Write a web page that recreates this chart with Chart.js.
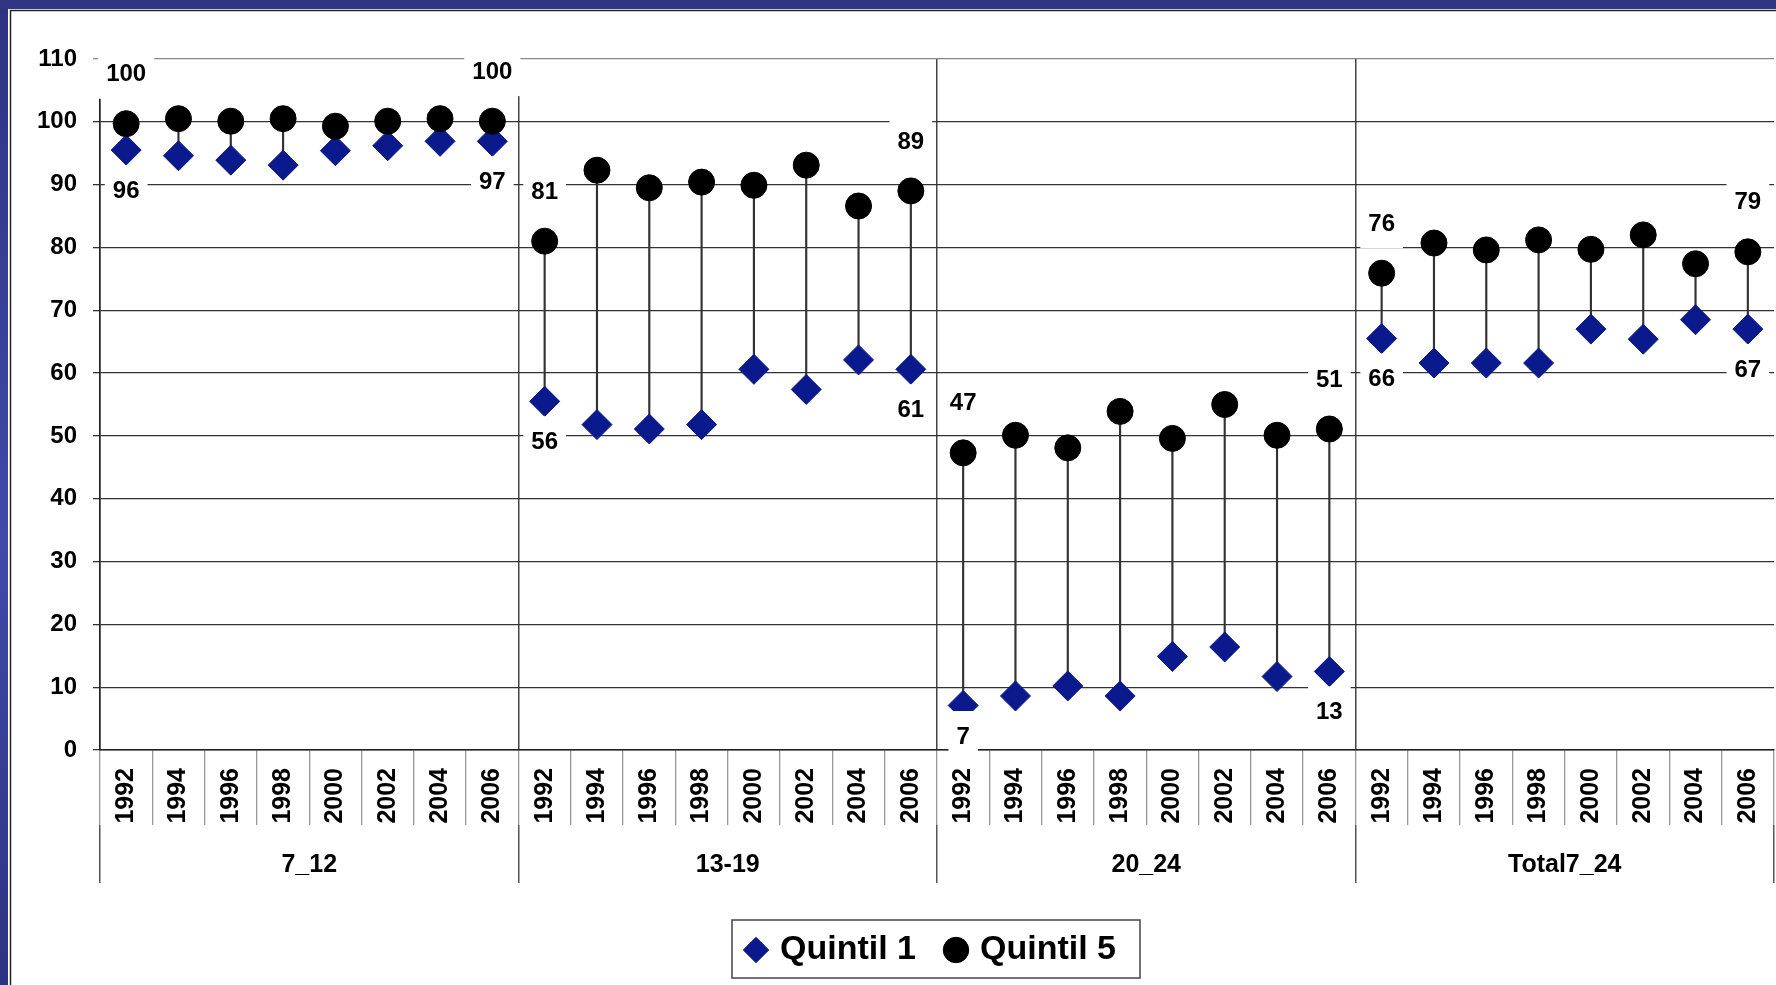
<!DOCTYPE html>
<html>
<head>
<meta charset="utf-8">
<script src="https://cdn.jsdelivr.net/npm/chart.js@4.4.1/dist/chart.umd.min.js"></script>
<style>
    html, body { margin: 0; padding: 0; background: #fff; overflow: hidden; }
    #quintil-chart { display: block; }
</style>
</head>
<body>
<canvas id="quintil-chart" width="1776" height="985"></canvas>
<script>
const groups = ['7_12', '13-19', '20_24', 'Total7_24'];
const years = ['1992', '1994', '1996', '1998', '2000', '2002', '2004', '2006'];

// one row per age group, one value per year
const quintil1 = [
    95.5, 94.6, 93.9, 93.1, 95.4, 96.2, 96.9, 96.9,
    55.5, 51.8, 51.1, 51.8, 60.6, 57.4, 62.1, 60.6,
    7.1, 8.6, 10.2, 8.6, 14.9, 16.4, 11.7, 12.5,
    65.5, 61.6, 61.6, 61.6, 67.0, 65.4, 68.5, 67.0
];
const quintil5 = [
    99.7, 100.5, 100.1, 100.5, 99.3, 100.1, 100.5, 100.1,
    81.0, 92.3, 89.5, 90.4, 89.9, 93.1, 86.6, 89.0,
    47.3, 50.1, 48.1, 53.9, 49.6, 55.0, 50.1, 51.1,
    75.9, 80.7, 79.6, 81.2, 79.7, 82.0, 77.4, 79.3
];
const yMin = 0;
const yMax = 110;
const yStep = 10;

const FONT = '"Liberation Sans", Arial, sans-serif';
Chart.defaults.font.family = FONT;

const xLabels = groups.flatMap(() => years);
const ranges = quintil1.map((v, i) => [v, quintil5[i]]);

const framePlugin = {
    id: 'frame',
    beforeDraw(chart) {
        const { ctx, width, height } = chart;
        ctx.save();
        ctx.fillStyle = '#fff';
        ctx.fillRect(0, 0, width, height);
        const grad = ctx.createLinearGradient(0, 0, 0, height);
        grad.addColorStop(0, '#2d3380');
        grad.addColorStop(0.55, '#4249a8');
        grad.addColorStop(1, '#2d3380');
        ctx.fillStyle = grad;
        ctx.fillRect(0, 0, 8, height);
        ctx.fillStyle = '#2f3580';
        ctx.fillRect(0, 0, width, 9);
        ctx.strokeStyle = '#222';
        ctx.lineWidth = 1.5;
        ctx.beginPath();
        ctx.moveTo(10.5, height);
        ctx.lineTo(10.5, 10.5);
        ctx.lineTo(width, 10.5);
        ctx.stroke();
        ctx.restore();
    }
};

// move the legend row to where it sits in the original
const legendShift = {
    id: 'legendShift',
    afterLayout(chart) {
        const lg = chart.legend;
        const pad = lg.options.labels.padding;
        const start = (lg.left + pad + lg.right - lg.lineWidths[0]) / 2;
        const dx = 749 - start;
        lg.left += dx;
        lg.right += dx;
    }
};

const legendFrame = {
    id: 'legendFrame',
    afterDraw(chart) {
        const boxes = chart.legend.legendHitBoxes;
        if (!boxes || !boxes.length) return;
        const { ctx } = chart;
        const first = boxes[0];
        const last = boxes[boxes.length - 1];
        const cy = first.top + first.height / 2;
        const left = first.left - 17;
        const right = last.left + last.width + 24;
        ctx.save();
        ctx.strokeStyle = '#444';
        ctx.lineWidth = 1.5;
        ctx.strokeRect(left, cy - 30, right - left, 58);
        ctx.restore();
    }
};

// first and last value of every group, with a white box behind
const valueLabels = {
    id: 'valueLabels',
    afterDatasetsDraw(chart) {
        const { ctx, chartArea } = chart;
        ctx.save();
        ctx.font = `bold 24px ${FONT}`;
        ctx.textAlign = 'center';
        ctx.textBaseline = 'middle';
        [1, 2].forEach(di => {
            const meta = chart.getDatasetMeta(di);
            const data = chart.data.datasets[di].data;
            meta.data.forEach((pt, i) => {
                const pos = i % years.length;
                if (pos !== 0 && pos !== years.length - 1) return;
                const text = String(Math.round(data[i]));
                const y = di === 2 ? pt.y - 50 : Math.min(pt.y + 40, chartArea.bottom - 14);
                const w = ctx.measureText(text).width + 16;
                ctx.fillStyle = '#fff';
                ctx.fillRect(pt.x - w / 2, y - 25, w, 50);
                ctx.fillStyle = '#000';
                ctx.fillText(text, pt.x, y + 1);
            });
        });
        ctx.restore();
    }
};

// fixed axis sizes, and no extra side padding for the rotated labels
const fixHeight = h => s => {
    s.height = h;
    s.paddingLeft = 0;
    s.paddingRight = 0;
};

const quintilChart = new Chart(document.getElementById('quintil-chart'), {
    type: 'bar',
    data: {
        labels: xLabels,
        datasets: [
            {
                label: 'range',
                data: ranges,
                backgroundColor: '#333',
                barThickness: 1.5,
                order: 3
            },
            {
                type: 'line',
                label: 'Quintil 1',
                data: quintil1,
                showLine: false,
                pointStyle: 'rectRot',
                pointRadius: 15,
                backgroundColor: '#0a1a8c',
                borderColor: '#0a1a8c',
                borderWidth: 1,
                order: 2
            },
            {
                type: 'line',
                label: 'Quintil 5',
                data: quintil5,
                showLine: false,
                pointStyle: 'circle',
                pointRadius: 13,
                backgroundColor: '#000',
                borderColor: '#000',
                borderWidth: 1,
                order: 1
            }
        ]
    },
    options: {
        responsive: false,
        animation: false,
        events: [],
        layout: {
            autoPadding: false,
            padding: { left: 10, right: 2, top: 59, bottom: 8 }
        },
        scales: {
            x: {
                type: 'category',
                offset: true,
                grid: {
                    offset: true,
                    color: ctx => ctx.index % years.length === 0 ? '#444' : 'rgba(0,0,0,0)',
                    lineWidth: 1.5,
                    tickColor: '#777',
                    tickWidth: 1,
                    tickLength: 75
                },
                border: { color: '#222', width: 1.5 },
                ticks: {
                    autoSkip: false,
                    maxRotation: 90,
                    minRotation: 90,
                    padding: -57,
                    color: '#000',
                    font: { size: 25, weight: 'bold' }
                },
                afterFit: fixHeight(75)
            },
            x2: {
                type: 'category',
                axis: 'x',
                labels: groups,
                position: 'bottom',
                offset: true,
                grid: {
                    offset: true,
                    drawOnChartArea: false,
                    tickLength: 58,
                    color: '#555',
                    lineWidth: 1.5
                },
                border: { display: false },
                ticks: {
                    padding: -33,
                    color: '#000',
                    font: { size: 25, weight: 'bold' }
                },
                afterFit: fixHeight(75)
            },
            y: {
                min: yMin,
                max: yMax,
                ticks: {
                    stepSize: yStep,
                    padding: 16,
                    color: '#000',
                    font: { size: 24, weight: 'bold' }
                },
                grid: {
                    color: ctx => ctx.tick && ctx.tick.value === yMax ? '#888' : '#333',
                    lineWidth: 1.3,
                    tickLength: 7
                },
                border: { color: '#222', width: 1.5 },
                afterFit: s => { s.width = 90; }
            }
        },
        plugins: {
            tooltip: { enabled: false },
            legend: {
                position: 'bottom',
                labels: {
                    usePointStyle: true,
                    boxWidth: 14,
                    boxHeight: 18,
                    padding: 33,
                    color: '#000',
                    font: { size: 34, weight: 'bold' },
                    filter: item => item.datasetIndex !== 0,
                    sort: (a, b) => a.datasetIndex - b.datasetIndex
                }
            }
        }
    },
    plugins: [framePlugin, legendShift, legendFrame, valueLabels]
});
</script>
</body>
</html>
